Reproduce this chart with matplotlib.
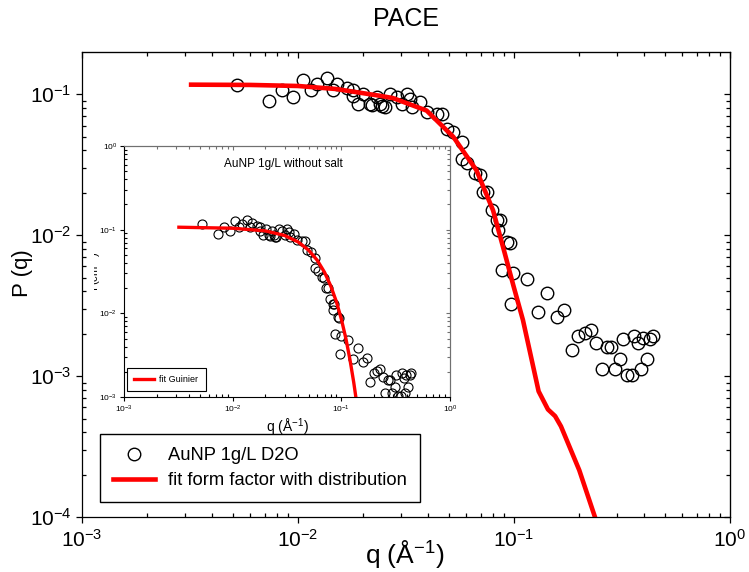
import matplotlib
matplotlib.use('Agg')
import matplotlib.pyplot as plt
from matplotlib.ticker import NullFormatter
from matplotlib.transforms import Bbox, TransformedBbox

#region data
q_data = [0.00524, 0.00736, 0.0084, 0.00945, 0.01058, 0.01148, 0.0122, 0.01358,
          0.01457, 0.0151, 0.0168, 0.01803, 0.01803, 0.01902, 0.02006, 0.0215,
          0.02194, 0.0231, 0.0240, 0.0244, 0.02528, 0.02667, 0.02864, 0.0302,
          0.03185, 0.033, 0.0336, 0.0367, 0.03943, 0.04385, 0.04627, 0.0488,
          0.05236, 0.05726, 0.05726, 0.0604, 0.06597, 0.06962, 0.07214, 0.07471,
          0.07882, 0.0832, 0.08615, 0.08459, 0.0877, 0.09251, 0.0958, 0.0965,
          0.0993, 0.1145, 0.1287, 0.1426, 0.1576, 0.171, 0.185, 0.1985,
          0.2132, 0.2272, 0.2396, 0.2547, 0.2686, 0.2812, 0.2935, 0.3096,
          0.3206, 0.3324, 0.3508, 0.3595, 0.3739, 0.3873, 0.3969, 0.4116,
          0.4262, 0.4387]
p_data = [0.117, 0.0897, 0.1068, 0.0957, 0.1257, 0.108, 0.1177, 0.1313,
          0.1068, 0.1191, 0.1115, 0.1068, 0.0972, 0.0859, 0.1012, 0.0859,
          0.0836, 0.0957, 0.0859, 0.0822, 0.0813, 0.1012, 0.0957, 0.0859,
          0.1012, 0.0932, 0.0813, 0.0882, 0.0749, 0.0729, 0.0729, 0.0571,
          0.054, 0.0459, 0.035, 0.0323, 0.0274, 0.0266, 0.0203, 0.0203,
          0.01504, 0.01278, 0.01278, 0.01085, 0.00565, 0.00897, 0.00882, 0.00324,
          0.0054, 0.00485, 0.00284, 0.00386, 0.00263, 0.00294, 0.00153, 0.00192,
          0.00203, 0.00214, 0.00172, 0.00112, 0.00161, 0.00161, 0.00112, 0.00132,
          0.00182, 0.00102, 0.00102, 0.00193, 0.00171, 0.00112, 0.00185, 0.00132,
          0.00182, 0.00193]

fit_q = [0.0032, 0.006, 0.01, 0.015, 0.024, 0.0275, 0.0394, 0.0524, 0.067,
         0.080, 0.0907, 0.0993, 0.110, 0.130, 0.1436, 0.155, 0.165, 0.2005,
         0.237, 0.26]
fit_p = [0.117, 0.1165, 0.1145, 0.109, 0.0975, 0.094, 0.0766, 0.0498, 0.0289,
         0.0150, 0.0074, 0.0044, 0.0025, 0.00078, 0.00058, 0.00052, 0.00044,
         0.000215, 0.0001, 0.00006]

guin_q = [0.0032, 0.01, 0.02, 0.03, 0.04, 0.05, 0.06, 0.07, 0.08, 0.09,
          0.10, 0.11, 0.12, 0.13, 0.136, 0.14]
guin_i = [0.107, 0.104, 0.0967, 0.0853, 0.0714, 0.0569, 0.0431, 0.031, 0.0212,
          0.0138, 0.00855, 0.00503, 0.00281, 0.0015, 0.0010, 0.000755]
#endregion

plt.rcParams['font.family'] = ['Liberation Sans', 'DejaVu Sans']
plt.rcParams['mathtext.fontset'] = 'custom'
plt.rcParams['mathtext.rm'] = 'Liberation Sans'
plt.rcParams['mathtext.it'] = 'Liberation Sans:italic'
plt.rcParams['mathtext.default'] = 'regular'
plt.rcParams['axes.unicode_minus'] = False

W, H = 749, 572
fig = plt.figure(figsize=(W / 100, H / 100), dpi=100)


def style_log_axes(a, major_len, minor_len, width, edge_tr='black'):
  a.set_xscale('log')
  a.set_yscale('log')
  a.xaxis.set_minor_formatter(NullFormatter())
  a.yaxis.set_minor_formatter(NullFormatter())
  a.tick_params(which='major', direction='out', length=major_len, width=width,
                top=False, right=False)
  a.tick_params(which='minor', direction='in', length=minor_len, width=width,
                top=False, right=False)
  top = a.secondary_xaxis('top')
  right = a.secondary_yaxis('right')
  for sec, ax_ in ((top, top.xaxis), (right, right.yaxis)):
    ax_.set_major_formatter(NullFormatter())
    ax_.set_minor_formatter(NullFormatter())
    sec.tick_params(which='major', direction='in', length=major_len, width=width,
                    colors=edge_tr)
    sec.tick_params(which='minor', direction='in', length=minor_len, width=width,
                    colors=edge_tr)
  top.spines['top'].set_color(edge_tr)
  right.spines['right'].set_color(edge_tr)
  a.spines['top'].set_color(edge_tr)
  a.spines['right'].set_color(edge_tr)
  for s in a.spines.values():
    s.set_linewidth(width)


#region main axes
ax = fig.add_axes([82 / W, 1 - 517 / H, 648 / W, 465 / H])
ax.plot(q_data, p_data, 'o', mfc='none', mec='black', ms=9, mew=1.0,
        label='AuNP 1g/L D2O')
ax.plot(fit_q, fit_p, '-', color='#ff0000', lw=3.3,
        label='fit form factor with distribution')
ax.set_xlim(1e-3, 1)
ax.set_ylim(1e-4, 10 ** -0.7)
style_log_axes(ax, 4.5, 3, 0.9)
ax.tick_params(which='major', labelsize=15)
ax.tick_params(axis='y', which='major', pad=3)
ax.tick_params(axis='x', which='major', pad=4)

ax.set_xlabel('q (Å$^{-1}$)', fontsize=19)
ax.xaxis.set_label_coords(0.498, -0.045)
ax.set_ylabel('P (q)', fontsize=16)
ax.yaxis.set_label_coords(-0.076, 0.525)

leg = ax.legend(loc='lower left', bbox_to_anchor=(0.0278, 0.032), borderaxespad=0,
                fancybox=False, edgecolor='black', framealpha=1, fontsize=13.2,
                handlelength=2.3, handletextpad=0.7, borderpad=0.7,
                labelspacing=0.45)
leg.get_frame().set_linewidth(1.0)

fig.text(405.7 / W, 1 - 26 / H, 'PACE', ha='center', va='baseline', fontsize=18)
#endregion

#region inset
ax_in = fig.add_axes([124 / W, 1 - 397 / H, 326 / W, 251 / H])
ax_in.set_facecolor('white')
ax_in.plot(q_data, p_data, 'o', mfc='none', mec='black', ms=6.5, mew=0.8)
guin, = ax_in.plot(guin_q, guin_i, '-', color='#ff0000', lw=2.4)
ax_in.set_xlim(1e-3, 1)
ax_in.set_ylim(1e-3, 1)
style_log_axes(ax_in, 3, 2, 0.8, edge_tr='#707070')
ax_in.tick_params(which='major', labelsize=6, pad=2)

ax_in.text(0.488, 0.928, 'AuNP 1g/L without salt', transform=ax_in.transAxes,
           ha='center', va='center', fontsize=8.5)
ax_in.set_xlabel('q (Å$^{-1}$)', fontsize=10, labelpad=1)
ax_in.set_ylabel('I (cm$^{-1}$)', fontsize=8)
ax_in.yaxis.set_label_coords(-0.064, 0.5)
lab = ax_in.yaxis.label
lab.set_clip_box(TransformedBbox(Bbox.from_extents(94 / W, 0, 1, 1), fig.transFigure))
lab.set_clip_on(True)

leg_in = ax_in.legend([guin], ['fit Guinier'], loc='lower left',
                      bbox_to_anchor=(0.009, 0.024), borderaxespad=0,
                      fancybox=False, edgecolor='black', framealpha=1,
                      fontsize=6.5, handlelength=2.2, handletextpad=0.6,
                      borderpad=0.8)
leg_in.get_frame().set_linewidth(0.8)
#endregion

fig.savefig('out.png', dpi=100)
